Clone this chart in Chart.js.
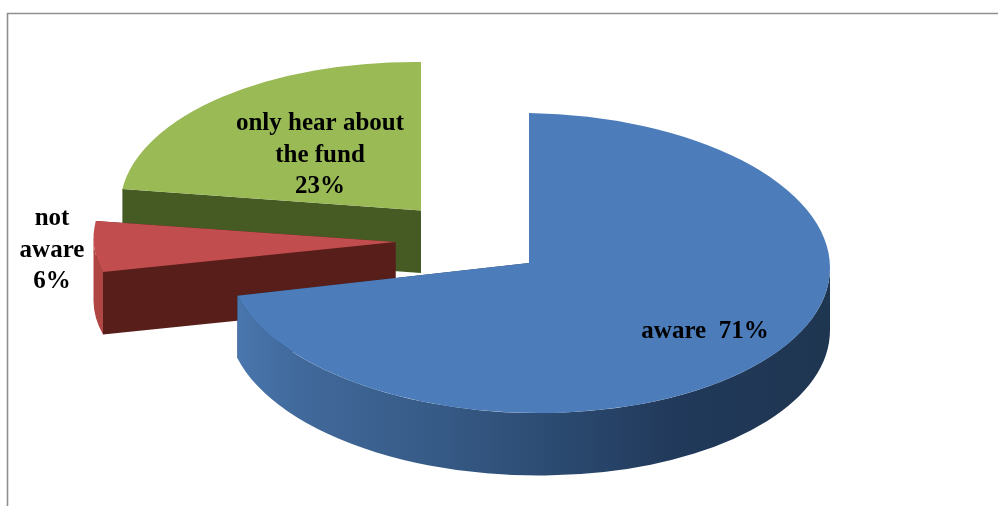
<!DOCTYPE html>
<html>
<head>
<meta charset="utf-8">
<style>
  html, body { margin: 0; padding: 0; background: #fff; }
  canvas { display: block; }
</style>
<script src="https://cdn.jsdelivr.net/npm/chart.js@4/dist/chart.umd.js"></script>
</head>
<body>
<canvas id="pie" width="998" height="506"></canvas>
<script>
// Fund awareness shares, in percent
const categories = ['aware', 'not aware', 'only hear about the fund'];
const shares = [71, 6, 23];
const labelLines = [['aware  71%'], ['not', 'aware', '6%'], ['only hear about', 'the fund', '23%']];

const topColours = ['#4c7dba', '#c24d4f', '#99ba55'];
const faceColours = ['#1f3651', '#581f1a', '#465a24'];
const rimColours = [null, '#b04644', null];
const blueRimStops = [[0, '#4a78b0'], [0.12, '#41699b'], [0.35, '#365a86'], [0.55, '#2b4a70'], [0.75, '#21395a'], [1, '#1f3651']];

// Tilted-pie geometry, in canvas pixels; the shear mimics the camera's perspective
const DEPTH = 62.5;
const sliceRadiusX = [301, 302, 301];
const sliceRadiusY = [150, 136, 148.5];
const sliceShear = [0.016, 0.0134, 0.01];
const sliceShift = [[62.5, 24.5], [-71, 3.5], [-45.5, -28]];
const labelAnchors = [[705, 338], [52, 225], [320, 130]];
const LINE_GAP = 31.5;

const tiltedPie = {
  id: 'tiltedPie',
  beforeDraw(chart) {
    // Open frame: top and left rules only
    const ctx = chart.ctx;
    ctx.save();
    ctx.strokeStyle = '#8f8f8f';
    ctx.lineWidth = 1.6;
    ctx.beginPath();
    ctx.moveTo(7.5, 506);
    ctx.lineTo(7.5, 13.5);
    ctx.lineTo(998, 13.5);
    ctx.stroke();
    ctx.restore();
  },
  beforeDatasetDraw(chart, args) {
    const ctx = chart.ctx;
    const arcs = args.meta.data;
    // Back to front: the last slice sits furthest from the viewer
    for (let i = arcs.length - 1; i >= 0; i--) {
      const arc = arcs[i];
      const rx = sliceRadiusX[i], ry = sliceRadiusY[i];
      const rim = a => [rx * Math.cos(a), ry * Math.sin(a)];

      ctx.save();
      ctx.translate(arc.x + sliceShift[i][0], arc.y + sliceShift[i][1]);
      ctx.transform(1, sliceShear[i], 0, 1, 0, 0);

      // Radial cut faces
      const face = a => {
        const [px, py] = rim(a);
        ctx.fillStyle = faceColours[i];
        ctx.beginPath();
        ctx.moveTo(0, 0);
        ctx.lineTo(px, py);
        ctx.lineTo(px, py + DEPTH);
        ctx.lineTo(0, DEPTH);
        ctx.closePath();
        ctx.fill();
      };
      face(arc.endAngle);
      face(arc.startAngle);

      // Outer wall: only the part of the rim that faces the viewer
      const from = Math.max(arc.startAngle, 0);
      const to = Math.min(arc.endAngle, Math.PI);
      if (to > from) {
        let fill = rimColours[i];
        if (!fill) {
          fill = ctx.createLinearGradient(-rx, 0, rx, 0);
          blueRimStops.forEach(([t, c]) => fill.addColorStop(t, c));
        }
        ctx.fillStyle = fill;
        ctx.beginPath();
        ctx.ellipse(0, 0, rx, ry, 0, from, to, false);
        ctx.ellipse(0, DEPTH, rx, ry, 0, to, from, true);
        ctx.closePath();
        ctx.fill();
      }

      // Top surface: the library's own arc, squashed and moved into place
      ctx.scale(rx / arc.outerRadius, ry / arc.outerRadius);
      ctx.translate(-arc.x, -arc.y);
      arc.draw(ctx);
      ctx.restore();
    }
    return false;
  },
  afterDatasetsDraw(chart) {
    const ctx = chart.ctx;
    ctx.save();
    ctx.fillStyle = '#000';
    ctx.font = 'bold 25px "Liberation Serif"';
    ctx.textAlign = 'center';
    ctx.textBaseline = 'alphabetic';
    labelLines.forEach((lines, i) => {
      lines.forEach((line, k) => {
        ctx.fillText(line, labelAnchors[i][0], labelAnchors[i][1] + k * LINE_GAP);
      });
    });
    ctx.restore();
  }
};

new Chart(document.getElementById('pie'), {
  type: 'pie',
  data: {
    labels: categories,
    datasets: [{
      data: shares,
      backgroundColor: topColours,
      borderWidth: 0
    }]
  },
  options: {
    responsive: false,
    animation: false,
    events: [],
    // Pulls the pie's centre up and to the left of the canvas centre
    layout: { padding: { right: 65, bottom: 29 } },
    plugins: { legend: { display: false }, tooltip: { enabled: false } }
  },
  plugins: [tiltedPie]
});
</script>
</body>
</html>
